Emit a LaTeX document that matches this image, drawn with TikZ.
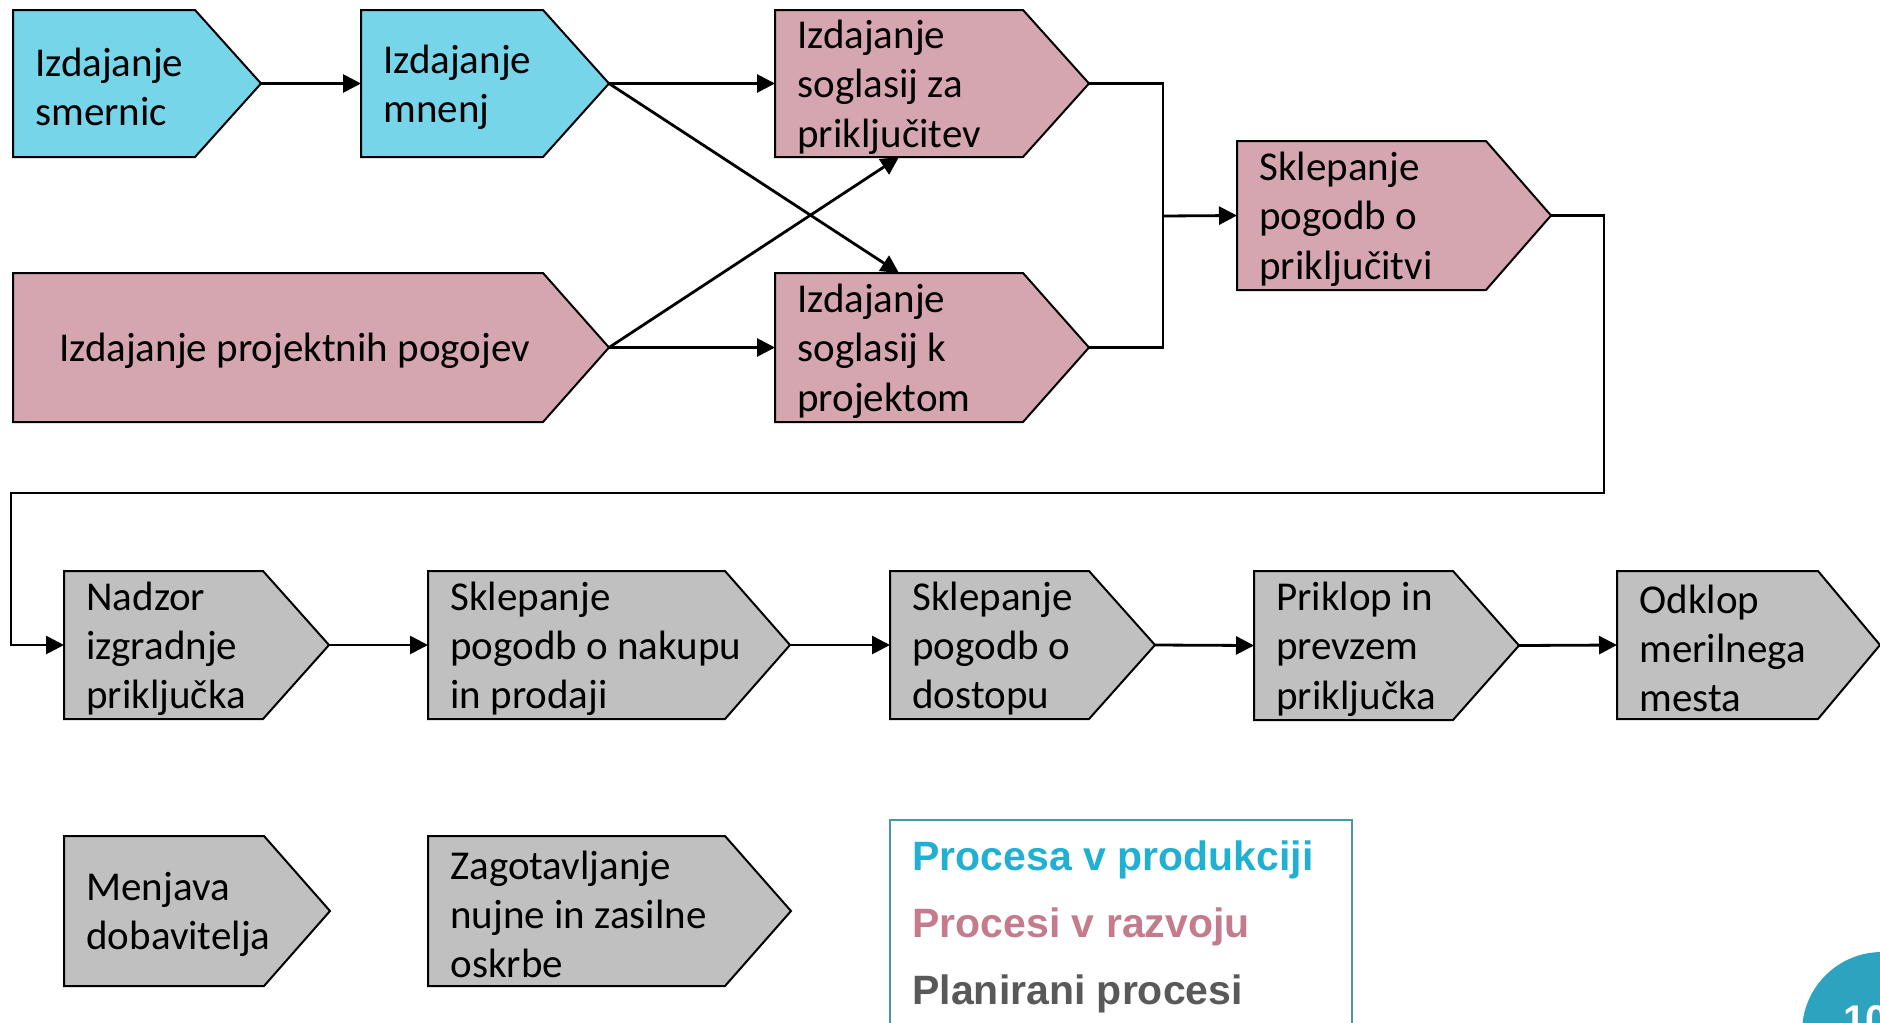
\documentclass[tikz,border=0pt]{standalone}
\usepackage{fontspec}
\setmainfont{Carlito}
\newfontfamily\legendfont{Liberation Sans}
\usetikzlibrary{arrows.meta,fit,backgrounds,calc}

\definecolor{prodfill}{HTML}{77D5E9}
\definecolor{devfill}{HTML}{D5A6B0}
\definecolor{planfill}{HTML}{C0C0C0}
\definecolor{prodtext}{HTML}{21B0D2}
\definecolor{devtext}{HTML}{C47C8C}
\definecolor{plantext}{HTML}{595959}
\definecolor{frameblue}{HTML}{4A96AA}
\definecolor{badge}{HTML}{2EA3C0}

\tikzset{
  procshape/.style={draw=black, line width=1pt, line join=miter},
  prod/.style={procshape, fill=prodfill},
  dev/.style={procshape, fill=devfill},
  plan/.style={procshape, fill=planfill},
  proctext/.style={inner sep=0pt, align=left, font=\fontsize{20.5pt}{24.6pt}\selectfont},
  conn/.style={line width=1.4pt, -{Triangle[length=9pt,width=9pt]}},
  link/.style={line width=1.4pt},
  legendline/.style={anchor=base west, inner sep=0pt, font=\legendfont\bfseries\fontsize{20.5pt}{24pt}\selectfont},
}

% \proc{name}{style}{left}{top}{rect right}{tip x}{bottom}{text offset}{text}
\newcommand\proc[9]{%
  \coordinate (#1-nw) at (#3,#4);
  \coordinate (#1-se) at (#5,#7);
  \node[fit=(#1-nw)(#1-se), inner sep=0pt, outer sep=0pt] (#1) {};
  \coordinate (#1-tip) at (#6,{(#4+#7)/2});
  \begin{pgfonlayer}{background}
    \draw[#2] (#1.north west) -- (#1.north east) -- (#1-tip) -- (#1.south east) -- (#1.south west) -- cycle;
  \end{pgfonlayer}
  \node[proctext, anchor=west] (#1-text) at ([xshift=#8*0.5pt, yshift=-1.8pt]#1.west) {#9};
}

\begin{document}
\begin{tikzpicture}[x=0.5pt, y=-0.5pt]
\useasboundingbox (0,0) rectangle (1880,1023);
\clip (0,0) rectangle (1880,1023);

% upper part: issuing opinions and consents
\proc{a1}{prod}{13}{10}{195}{261}{157}{22}{Izdajanje\\smernic}
\proc{a2}{prod}{361}{10}{543}{609}{157}{22}{Izdajanje\\mnenj}
\proc{a3}{dev}{775}{10}{1023}{1089}{157}{22}{Izdajanje\\soglasij za\\priključitev}
\proc{b1}{dev}{13}{273}{543}{609}{422}{46}{Izdajanje projektnih pogojev}
\proc{b2}{dev}{775}{273}{1023}{1089}{422}{22}{Izdajanje\\soglasij k\\projektom}
\proc{c}{dev}{1237}{141}{1486}{1551}{290}{22}{Sklepanje\\pogodb o\\priključitvi}

% lower part: planned processes
\proc{d1}{plan}{64}{571}{263}{329}{719}{22}{Nadzor\\izgradnje\\priključka}
\proc{d2}{plan}{428}{571}{725}{790}{719}{22}{Sklepanje\\pogodb o nakupu\\in prodaji}
\proc{d3}{plan}{890}{571}{1089}{1155}{719}{22}{Sklepanje\\pogodb o\\dostopu}
\proc{d4}{plan}{1254}{571}{1453}{1519}{720}{22}{Priklop in\\prevzem\\priključka}
\proc{d5}{plan}{1617}{571}{1818}{1880}{719}{22}{Odklop\\merilnega\\mesta}
\proc{e1}{plan}{64}{836}{264}{330}{986}{22}{Menjava\\dobavitelja}
\proc{e2}{plan}{428}{836}{725}{791}{986}{22}{Zagotavljanje\\nujne in zasilne\\oskrbe}

% connectors
\draw[conn] (a1-tip) -- (a2.west);
\draw[conn] (a2-tip) -- (a3.west);
\draw[conn] (a2-tip) -- (b2.north);
\draw[conn] (b1-tip) -- (a3.south);
\draw[conn] (b1-tip) -- (b2.west);

\coordinate (merge) at (1163,216);
\draw[link] (a3-tip) -| (merge);
\draw[link] (b2-tip) -| (merge);
\draw[conn] (merge) -- (c.west);

\coordinate (turnR) at (1604,493);
\coordinate (turnL) at (11,493);
\draw[conn, line join=miter] (c-tip) -| (turnR) -- (turnL) |- (d1.west);

\draw[conn] (d1-tip) -- (d2.west);
\draw[conn] (d2-tip) -- (d3.west);
\draw[conn] (d3-tip) -- (d4.west);
\draw[conn] (d4-tip) -- (d5.west);

% legend
\draw[frameblue, line width=1pt] (890,820) rectangle (1352,1040);
\node[legendline, text=prodtext] (lg1) at (912,870) {Procesa v produkciji};
\node[legendline, text=devtext] (lg2) at (912,937) {Procesi v razvoju};
\node[legendline, text=plantext] (lg3) at (912,1004) {Planirani procesi};

% page badge
\fill[badge] (1882,1032) circle (80);
\node[anchor=base west, inner sep=0pt, text=white, font=\legendfont\bfseries\fontsize{20pt}{24pt}\selectfont] (pg) at (1843,1033) {10};
\end{tikzpicture}
\end{document}
